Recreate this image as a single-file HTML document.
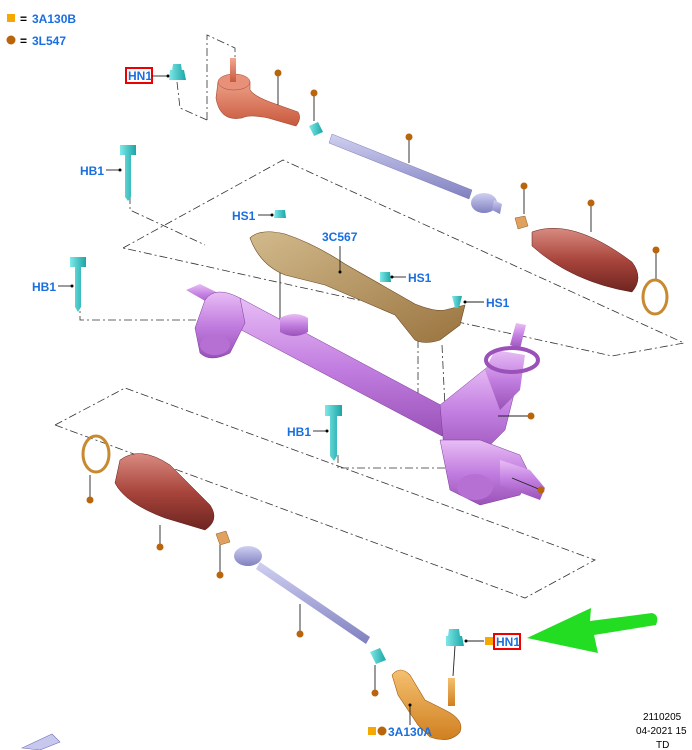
<!DOCTYPE html>
<html><head><meta charset="utf-8"><style>
html,body{margin:0;padding:0;background:#fff;width:692px;height:750px;overflow:hidden}
svg{display:block}
.l{font-family:"Liberation Sans",sans-serif;font-weight:bold;font-size:12px;fill:#1a6fe0}
.k{font-family:"Liberation Sans",sans-serif;font-size:10px;fill:#000}
.d{fill:none;stroke:#333;stroke-width:0.8;stroke-dasharray:8 3 2 3}
.ln{stroke:#222;stroke-width:0.9;fill:none}
.dot{fill:#b8650c}
</style></head><body>
<svg width="692" height="750" viewBox="0 0 692 750">
<defs>
<linearGradient id="red" x1="0" y1="0" x2="0" y2="1"><stop offset="0" stop-color="#d98a80"/><stop offset=".5" stop-color="#a8453c"/><stop offset="1" stop-color="#6e2420"/></linearGradient>
<linearGradient id="pur" x1="0" y1="0" x2="0" y2="1"><stop offset="0" stop-color="#e8bdf5"/><stop offset=".5" stop-color="#c27ee0"/><stop offset="1" stop-color="#9a52b8"/></linearGradient>
<linearGradient id="brn" x1="0" y1="0" x2="1" y2="1"><stop offset="0" stop-color="#d2ba8c"/><stop offset="1" stop-color="#9a7440"/></linearGradient>
<linearGradient id="blu" x1="0" y1="0" x2="0" y2="1"><stop offset="0" stop-color="#d0d0f2"/><stop offset="1" stop-color="#8080c0"/></linearGradient>
<linearGradient id="cy" x1="0" y1="0" x2="1" y2="0"><stop offset="0" stop-color="#7fe8e8"/><stop offset="1" stop-color="#1aa5a5"/></linearGradient>
<linearGradient id="org" x1="0" y1="0" x2="0" y2="1"><stop offset="0" stop-color="#f4c070"/><stop offset="1" stop-color="#d08020"/></linearGradient>
<linearGradient id="sal" x1="0" y1="0" x2="0" y2="1"><stop offset="0" stop-color="#f2a890"/><stop offset="1" stop-color="#c8583c"/></linearGradient>
</defs>

<!-- legend -->
<rect x="7" y="14" width="8" height="8" fill="#f5a800"/>
<text x="20" y="23" class="k" style="font-size:12px;font-weight:bold">=</text>
<text x="32" y="23" class="l">3A130B</text>
<circle cx="11" cy="40" r="4.5" class="dot"/>
<text x="20" y="45" class="k" style="font-size:12px;font-weight:bold">=</text>
<text x="32" y="45" class="l">3L547</text>

<!-- dash-dot frames -->
<polyline class="d" points="207,120 207,35 235,48 235,58"/>
<polyline class="d" points="177,82 180,108 207,120"/>
<polygon class="d" points="123,248 283,160 684,343 612,356"/>
<polygon class="d" points="55,425 125,388 595,560 525,598"/>
<polyline class="d" points="130,196 130,210 205,245"/>
<polyline class="d" points="80,300 80,320 210,320 210,330"/>
<polyline class="d" points="338,455 338,468 468,468 468,480"/>
<polyline class="d" points="418,340 418,420"/>
<polyline class="d" points="442,345 445,408"/>
<line class="ln" x1="280" y1="240" x2="280" y2="322"/>

<!-- top tie rod end (salmon) -->
<path d="M218,82 q15,-12 32,0 l0,8 q4,6 20,12 l28,10 q4,6 -2,14 l-28,-8 q-18,-4 -26,0 q-22,4 -26,-20z" fill="url(#sal)" stroke="#a04a30" stroke-width=".6"/>
<ellipse cx="234" cy="82" rx="16" ry="8" fill="#e8907a" stroke="#a04a30" stroke-width=".5"/>
<rect x="230" y="58" width="6" height="24" fill="url(#sal)"/>
<!-- top nut HN1 -->
<rect x="126" y="68" width="26" height="15" fill="#fff" stroke="#e00" stroke-width="2"/>
<text x="128" y="80" class="l">HN1</text>
<line class="ln" x1="152" y1="76" x2="168" y2="76"/><circle cx="168" cy="76" r="1.5"/>
<path d="M170,70 l14,0 l2,10 l-17,0z M173,64 l8,0 l1,7 l-10,0z" fill="url(#cy)"/>
<!-- dots top -->
<line class="ln" x1="278" y1="73" x2="278" y2="105"/><circle cx="278" cy="73" r="3.5" class="dot"/>
<line class="ln" x1="314" y1="93" x2="314" y2="121"/><circle cx="314" cy="93" r="3.5" class="dot"/>
<path d="M309,126 l9,-4 l5,10 l-9,4z" fill="url(#cy)"/>
<!-- top tie rod -->
<path d="M332,134 l140,56 l-3,9 l-140,-56z" fill="url(#blu)" stroke="#6a6aa8" stroke-width=".4"/>
<ellipse cx="484" cy="203" rx="13" ry="10" fill="url(#blu)"/>
<path d="M494,200 l8,4 l-2,10 l-8,-4z" fill="url(#blu)"/>
<line class="ln" x1="409" y1="137" x2="409" y2="163"/><circle cx="409" cy="137" r="3.5" class="dot"/>
<line class="ln" x1="524" y1="186" x2="524" y2="214"/><circle cx="524" cy="186" r="3.5" class="dot"/>
<path d="M515,218 l10,-2 l3,10 l-10,3z" fill="#e0a060" stroke="#8a5a20" stroke-width=".5"/>
<!-- right boot -->
<path d="M532,232 q40,-15 100,30 q12,16 0,30 q-60,-10 -100,-46z" fill="url(#red)" stroke="#5a1a18" stroke-width=".5"/>
<line class="ln" x1="591" y1="203" x2="591" y2="232"/><circle cx="591" cy="203" r="3.5" class="dot"/>
<line class="ln" x1="656" y1="250" x2="656" y2="280"/><circle cx="656" cy="250" r="3.5" class="dot"/>
<ellipse cx="655" cy="297" rx="12" ry="17" fill="none" stroke="#c88a30" stroke-width="3"/>

<!-- rack (purple) -->
<path d="M186,290 l14,-6 l20,10 l-6,12z" fill="url(#pur)"/>
<path d="M240,298 l210,112 l-8,26 l-212,-112z" fill="url(#pur)" stroke="#7a3a98" stroke-width=".5"/>
<path d="M205,300 q10,-15 35,-2 l5,25 l-15,30 q-20,10 -30,0 l-5,-25z" fill="url(#pur)" stroke="#7a3a98" stroke-width=".5"/>
<ellipse cx="215" cy="345" rx="15" ry="10" fill="#b670d4"/>
<path d="M280,318 q15,-8 28,0 l0,14 q-14,8 -28,0z" fill="url(#pur)"/>
<!-- right housing -->
<path d="M440,405 l50,-40 l25,25 l-10,40 l-20,20 l-40,10z" fill="url(#pur)" stroke="#7a3a98" stroke-width=".5"/>
<path d="M485,370 l10,-20 l30,5 l-5,35 l-20,20z" fill="url(#pur)"/>
<path d="M510,345 l6,-22 l10,2 l-6,24z" fill="url(#pur)"/>
<ellipse cx="512" cy="360" rx="26" ry="12" fill="none" stroke="#9a52b8" stroke-width="4"/>
<path d="M440,440 l40,0 l40,15 l10,20 l-10,20 l-40,10 l-30,-15 z" fill="url(#pur)" stroke="#7a3a98" stroke-width=".5"/>
<path d="M500,460 l30,10 l15,18 l-5,12 l-40,-15z" fill="url(#pur)"/>
<ellipse cx="475" cy="487" rx="18" ry="13" fill="#b670d4"/>
<line class="ln" x1="530" y1="416" x2="498" y2="416"/><circle cx="531" cy="416" r="3.5" class="dot"/>
<line class="ln" x1="541" y1="490" x2="512" y2="478"/><circle cx="541" cy="490" r="3.5" class="dot"/>

<!-- heat shield (brown) -->
<path d="M250,238 q10,-10 35,-4 q30,10 60,30 l70,40 q20,8 30,6 l20,-5 l-5,20 l-20,15 q-15,5 -25,0 l-20,-25 l-70,-30 l-40,-10 q-25,-10 -35,-37z" fill="url(#brn)" stroke="#6a4a20" stroke-width=".6"/>
<text x="322" y="241" class="l">3C567</text>
<line class="ln" x1="340" y1="246" x2="340" y2="272"/><circle cx="340" cy="272" r="1.5"/>
<text x="232" y="220" class="l">HS1</text>
<line class="ln" x1="258" y1="215" x2="272" y2="215"/><circle cx="272" cy="215" r="1.5"/>
<path d="M275,210 l10,0 l1,8 l-12,0z" fill="url(#cy)"/>
<text x="408" y="282" class="l">HS1</text>
<line class="ln" x1="392" y1="277" x2="406" y2="277"/><circle cx="392" cy="277" r="1.5"/>
<path d="M380,272 l10,0 l1,10 l-11,0z" fill="url(#cy)"/>
<text x="486" y="307" class="l">HS1</text>
<line class="ln" x1="465" y1="302" x2="484" y2="302"/><circle cx="465" cy="302" r="1.5"/>
<path d="M452,296 l10,0 l-3,12 l-4,0z" fill="url(#cy)"/>

<!-- bolts HB1 -->
<text x="80" y="175" class="l">HB1</text>
<line class="ln" x1="106" y1="170" x2="120" y2="170"/><circle cx="120" cy="170" r="1.5"/>
<path d="M120,145 l16,0 l0,10 l-16,0z M125,155 l6,0 l0,42 l-3,4 l-3,-4z" fill="url(#cy)"/>
<text x="32" y="291" class="l">HB1</text>
<line class="ln" x1="58" y1="286" x2="72" y2="286"/><circle cx="72" cy="286" r="1.5"/>
<path d="M70,257 l16,0 l0,10 l-16,0z M75,267 l6,0 l0,40 l-3,5 l-3,-5z" fill="url(#cy)"/>
<text x="287" y="436" class="l">HB1</text>
<line class="ln" x1="313" y1="431" x2="327" y2="431"/><circle cx="327" cy="431" r="1.5"/>
<path d="M325,405 l17,0 l0,11 l-17,0z M330,416 l7,0 l0,40 l-3,5 l-4,-5z" fill="url(#cy)"/>

<!-- lower left ring & boot -->
<ellipse cx="96" cy="454" rx="13" ry="18" fill="none" stroke="#c88a30" stroke-width="3"/>
<line class="ln" x1="90" y1="475" x2="90" y2="500"/><circle cx="90" cy="500" r="3.5" class="dot"/>
<path d="M120,460 q20,-15 50,5 l40,40 q10,15 -5,25 l-40,-12 q-40,-15 -50,-35z" fill="url(#red)" stroke="#5a1a18" stroke-width=".5"/>
<line class="ln" x1="160" y1="525" x2="160" y2="547"/><circle cx="160" cy="547" r="3.5" class="dot"/>
<path d="M216,534 l10,-3 l4,11 l-10,3z" fill="#e0a060" stroke="#8a5a20" stroke-width=".5"/>
<line class="ln" x1="220" y1="545" x2="220" y2="575"/><circle cx="220" cy="575" r="3.5" class="dot"/>
<!-- lower tie rod -->
<ellipse cx="248" cy="556" rx="14" ry="10" fill="url(#blu)"/>
<path d="M260,562 l110,75 l-4,7 l-110,-75z" fill="url(#blu)"/>
<line class="ln" x1="300" y1="604" x2="300" y2="634"/><circle cx="300" cy="634" r="3.5" class="dot"/>
<path d="M370,652 l10,-4 l6,12 l-10,4z" fill="url(#cy)"/>
<line class="ln" x1="375" y1="665" x2="375" y2="693"/><circle cx="375" cy="693" r="3.5" class="dot"/>
<!-- lower tie rod end (orange) -->
<path d="M392,675 q8,-10 18,0 l15,25 l20,10 q20,10 15,22 q-10,12 -30,5 l-12,-12 l-20,-30z" fill="url(#org)" stroke="#a05a10" stroke-width=".6"/>
<rect x="448" y="678" width="7" height="28" fill="url(#org)"/>
<rect x="368" y="727" width="8" height="8" fill="#f5a800"/>
<circle cx="382" cy="731" r="4.5" class="dot"/>
<text x="388" y="736" class="l">3A130A</text>
<line class="ln" x1="410" y1="725" x2="410" y2="705"/><circle cx="410" cy="705" r="1.5"/>
<!-- lower nut HN1 -->
<path d="M446,636 l16,0 l2,10 l-18,0z M449,629 l10,0 l1,7 l-12,0z" fill="url(#cy)"/>
<line class="ln" x1="455" y1="646" x2="453" y2="676"/>
<line class="ln" x1="466" y1="641" x2="484" y2="641"/><circle cx="466" cy="641" r="1.5"/>
<rect x="485" y="637" width="8" height="8" fill="#f5a800"/>
<rect x="494" y="634" width="26" height="15" fill="#fff" stroke="#e00" stroke-width="2"/>
<text x="496" y="646" class="l">HN1</text>
<!-- green arrow -->
<path d="M527,638 l64,-30 l-1,13 l62,-8 q8,2 4,12 l-62,10 l4,18z" fill="#22dd22"/>

<!-- bottom left arrow fragment -->
<path d="M22,748 l30,-14 l8,8 l-20,8z" fill="#c8c8ef" stroke="#7070b8" stroke-width=".6"/>

<!-- stamp -->
<text x="643" y="720" class="k">2110205</text>
<text x="636" y="734" class="k">04-2021 15</text>
<text x="656" y="748" class="k">TD</text>
</svg>
</body></html>
